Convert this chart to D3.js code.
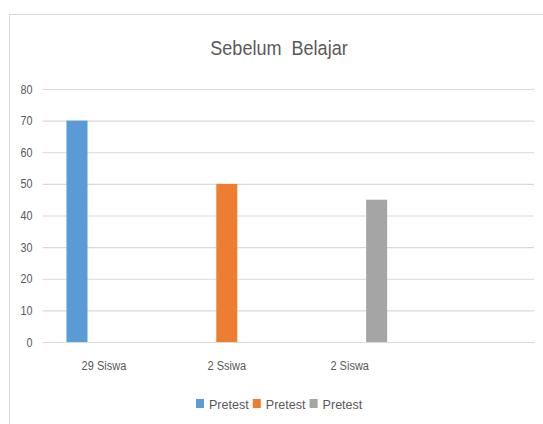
<!DOCTYPE html>
<html>
<head>
<meta charset="utf-8">
<script src="https://cdn.jsdelivr.net/npm/d3@7"></script>
<style>
  html, body { margin: 0; padding: 0; background: #fff; }
  svg { display: block; }
  text { font-family: "Liberation Sans", "DejaVu Sans", sans-serif; fill: #595959; }
</style>
</head>
<body>
<svg id="chart" width="543" height="424"></svg>
<script>
// Categories along the x axis (the last slot is left empty)
const categories = ["29 Siswa", "2 Ssiwa", "2 Siswa", ""];
// Three series, all named "Pretest"; each has a value in one category only
const seriesNames = ["Pretest", "Pretest", "Pretest"];
const seriesColors = ["#5b9bd5", "#ed7d31", "#a5a5a5"];
const seriesValues = [
  [70, null, null, null],
  [null, 50, null, null],
  [null, null, 45, null]
];
const yTicks = [0, 10, 20, 30, 40, 50, 60, 70, 80];
const titleText = "Sebelum  Belajar";

const svg = d3.select("#chart");

// narrow the glyphs a little for a condensed look
function condense(sel, k) {
  sel.each(function () {
    const len = this.getComputedTextLength();
    if (len > 0) {
      d3.select(this)
        .attr("textLength", len * k)
        .attr("lengthAdjust", "spacingAndGlyphs");
    }
  });
}

// outer chart frame
svg.append("rect")
  .attr("x", 9.5).attr("y", 14.5)
  .attr("width", 560).attr("height", 430)
  .attr("fill", "#fff").attr("stroke", "#d9d9d9").attr("stroke-width", 1);

const plot = { left: 42.5, right: 534, top: 89, bottom: 342 };

const x0 = d3.scaleBand()
  .domain(d3.range(categories.length))
  .range([plot.left, plot.right])
  .paddingInner(0).paddingOuter(0);

const x1 = d3.scaleBand()
  .domain(d3.range(seriesNames.length))
  .range([0, x0.bandwidth()])
  .paddingInner(0.22)
  .paddingOuter(0.89);

const y = d3.scaleLinear().domain([0, 80]).range([plot.bottom, plot.top]);

// title
const title = svg.append("text")
  .attr("x", 279).attr("y", 55)
  .attr("text-anchor", "middle")
  .attr("xml:space", "preserve")
  .style("font-size", "20.5px")
  .style("white-space", "pre")
  .text(titleText);
condense(title, 0.88);

// gridlines and y labels
const yAxis = d3.axisLeft(y)
  .tickValues(yTicks)
  .tickSize(-(plot.right - plot.left))
  .tickPadding(10)
  .tickFormat(d3.format("d"));

const gy = svg.append("g")
  .attr("transform", `translate(${plot.left},0)`)
  .call(yAxis);
gy.select(".domain").remove();
gy.selectAll(".tick line").attr("stroke", "#d9d9d9").attr("stroke-width", 1.2);
gy.selectAll(".tick text")
  .style("font-size", "12.5px")
  .style("font-family", null)
  .attr("fill", "#595959")
  .call(condense, 0.86);

// bars
seriesValues.forEach((vals, s) => {
  svg.append("g")
    .selectAll("rect")
    .data(vals.map((v, i) => ({ v, i })).filter(d => d.v != null))
    .join("rect")
    .attr("x", d => x0(d.i) + x1(s))
    .attr("width", x1.bandwidth())
    .attr("y", d => y(d.v))
    .attr("height", d => y(0) - y(d.v))
    .attr("fill", seriesColors[s]);
});

// x axis
const xAxis = d3.axisBottom(x0)
  .tickSize(0)
  .tickPadding(19)
  .tickFormat(i => categories[i]);
const gx = svg.append("g")
  .attr("transform", `translate(0,${plot.bottom})`)
  .call(xAxis);
gx.select(".domain").attr("stroke", "#d9d9d9").attr("stroke-width", 1.2);
gx.selectAll(".tick text")
  .style("font-size", "12.5px")
  .style("font-family", null)
  .attr("fill", "#595959")
  .call(condense, 0.88);

// legend
const legendItems = seriesNames.map((n, i) => ({ name: n, color: seriesColors[i] }));
const legend = svg.append("g");
let lx = 196;
legendItems.forEach(item => {
  const g = legend.append("g").attr("transform", `translate(${lx},399)`);
  g.append("rect").attr("width", 8).attr("height", 9).attr("fill", item.color);
  const t = g.append("text").attr("x", 13).attr("y", 10)
    .style("font-size", "13.5px").text(item.name);
  const w = t.node().getComputedTextLength() * 0.93;
  condense(t, 0.93);
  lx += 13 + w + 4;
});
</script>
</body>
</html>
